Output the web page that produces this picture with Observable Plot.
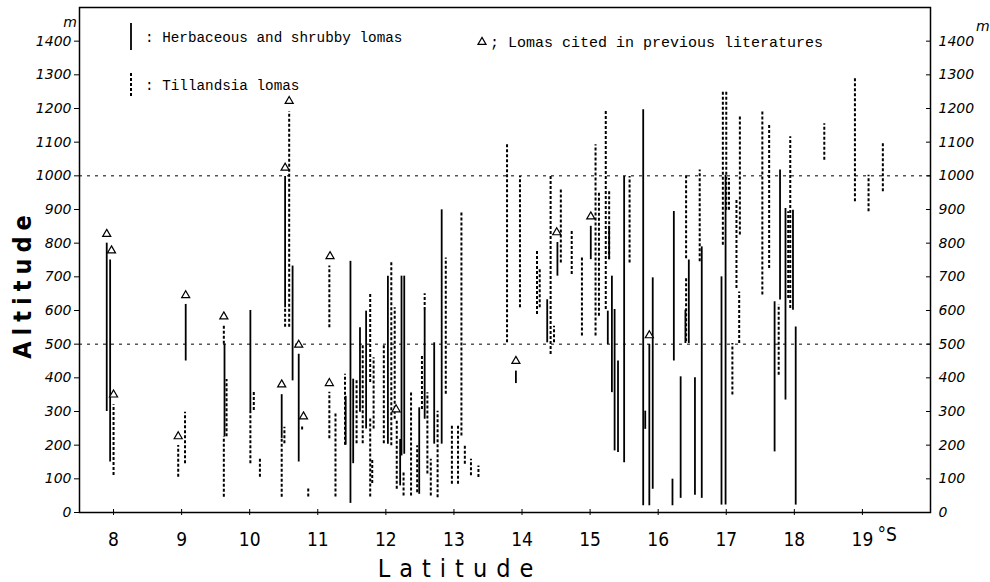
<!DOCTYPE html>
<html><head><meta charset="utf-8">
<script src="https://cdn.jsdelivr.net/npm/d3@7"></script>
<script src="https://cdn.jsdelivr.net/npm/@observablehq/plot@0.6"></script>
<style>body{margin:0;background:#fff} svg{display:block}</style>
</head><body><div id="chart"></div>
<script>
// Herbaceous and shrubby lomas (solid): latitude, lower and upper altitude (m)
const herbLat  = [7.90,7.95,9.06,9.63,10.01,10.47,10.52,10.63,10.72,11.41,11.48,11.52,11.62,11.71,12.03,12.21,12.23,12.27,12.49,12.57,12.71,12.82,13.91,14.37,14.52,15.01,15.28,15.26,15.32,15.36,15.41,15.50,15.78,15.81,15.87,15.92,16.23,16.21,16.33,16.40,16.45,16.54,16.64,16.93,16.99,17.71,17.79,17.87,17.98,18.02];
const herbLow  = [300,150,450,225,300,220,608,391,150,200,27,145,298,248,203,79,168,173,54,277,203,203,383,504,702,751,751,499,356,183,178,148,20,247,20,69,450,20,42,502,502,51,42,22,22,180,631,334,601,22];
const herbHigh = [800,750,618,500,600,350,998,732,470,345,746,396,549,598,702,217,702,702,311,600,504,899,420,632,802,850,850,598,702,603,450,998,1196,301,499,697,894,99,403,601,750,400,789,700,1002,626,1017,903,898,551];

// Tillandsia lomas (dashed)
const tillLat  = [8.00,8.95,9.05,9.62,9.62,9.66,10.01,10.06,10.15,10.47,10.51,10.58,10.52,10.77,10.86,11.17,11.17,11.26,11.40,11.57,11.66,11.77,11.77,11.82,11.80,11.97,12.08,12.13,12.16,12.26,12.37,12.46,12.53,12.57,12.61,12.66,12.76,12.88,12.97,13.06,13.11,13.16,13.25,13.36,13.78,13.97,14.22,14.26,14.42,14.47,14.57,14.73,14.88,15.08,15.13,15.23,15.28,15.58,16.41,16.41,16.61,16.95,17.00,17.04,17.09,17.15,17.20,17.19,17.53,17.63,17.77,17.91,17.94,18.44,18.89,19.09,19.30];
const tillLow  = [110,105,145,45,500,225,145,303,105,45,204,550,550,245,46,549,219,46,200,204,204,386,46,248,86,204,198,277,69,49,49,59,306,600,114,49,44,351,84,84,227,143,109,104,504,608,588,608,469,504,741,707,524,524,583,603,751,741,754,507,745,794,898,898,349,665,824,502,646,725,408,636,606,1046,923,893,953];
const tillHigh = [320,199,298,225,555,395,300,360,160,220,253,1190,608,260,76,732,357,298,411,391,500,648,278,460,160,500,746,608,277,119,356,198,469,650,356,158,301,756,257,257,894,198,158,138,1097,998,776,721,998,553,958,835,756,1092,954,1196,954,998,1002,695,1017,1250,1250,992,502,933,1175,655,1195,1155,616,893,1116,1155,1293,1002,1101];

// Lomas cited in previous literatures (triangles)
const citedLat = [7.90,7.97,8.00,8.95,9.06,9.62,10.47,10.52,10.58,10.72,10.79,11.18,11.17,12.15,13.91,14.51,15.01,15.87];
const citedAlt = [827,778,350,226,645,582,380,1024,1222,498,285,761,384,306,450,832,879,526];

const latTicks = [8,9,10,11,12,13,14,15,16,17,18,19];
const altTicks = [0,100,200,300,400,500,600,700,800,900,1000,1100,1200,1300,1400];
const refLines = [500,1000];

const herb = herbLat.map((x,i)=>({x, y1: herbLow[i], y2: herbHigh[i]}));
const till = tillLat.map((x,i)=>({x, y1: tillLow[i], y2: tillHigh[i]}));
const cited = citedLat.map((x,i)=>({x, y: citedAlt[i]}));

const numFont = "DejaVu Sans, sans-serif";
const condFont = "'Liberation Sans Narrow','DejaVu Sans Condensed','Roboto Condensed',sans-serif";
const fmt = d => String(d);

const chart = Plot.plot({
  width: 990, height: 582,
  marginLeft: 79, marginRight: 60, marginTop: 7, marginBottom: 70,
  style: {background: "#fff", color: "#000"},
  x: {domain: [7.5, 20]},
  y: {domain: [0, 1500]},
  marks: [
    Plot.ruleY(refLines, {stroke: "#000", strokeWidth: 1, strokeDasharray: "3,5"}),
    Plot.ruleX(herb, {x: "x", y1: "y1", y2: "y2", stroke: "#000", strokeWidth: 1.8}),
    Plot.ruleX(till, {x: "x", y1: "y1", y2: "y2", stroke: "#000", strokeWidth: 2, strokeDasharray: "3,2"}),
    Plot.dot(cited, {x: "x", y: "y", symbol: "triangle", r: 3, stroke: "#000", fill: "#fff", strokeWidth: 1.2}),
    Plot.frame({stroke: "#000", strokeWidth: 1.5}),
    Plot.axisY(altTicks, {anchor: "left", tickSize: 5, tickPadding: 3, fontSize: 14, fontStyle: "italic", fontFamily: numFont, tickFormat: fmt, label: null}),
    Plot.axisY(altTicks, {anchor: "right", tickSize: 5, dx: -5, text: null, label: null}),
    Plot.axisY(altTicks, {anchor: "right", tickSize: 0, tickPadding: 8, fontSize: 14, fontStyle: "italic", fontFamily: numFont, tickFormat: fmt, label: null}),
    Plot.axisX(latTicks, {anchor: "bottom", tickSize: 3, tickPadding: 17, fontSize: 19, fontFamily: condFont, tickFormat: fmt, label: null}),
    Plot.axisX(latTicks, {anchor: "bottom", tickSize: 3, dy: -3, text: null, label: null}),
    Plot.text([19], {x: d => d, frameAnchor: "bottom", text: () => "°S", textAnchor: "start", dx: 15, dy: 28, fontSize: 19, fontFamily: condFont})
  ]
});

const svg = d3.select(chart);
// axis titles
svg.append("text").attr("x", 460).attr("y", 577).attr("text-anchor", "middle")
  .attr("font-family", condFont).attr("font-size", 25).attr("letter-spacing", 9)
  .text("Latitude");
svg.append("text").attr("transform", "translate(31,284) rotate(-90)").attr("text-anchor", "middle")
  .attr("font-family", condFont).attr("font-size", 25).attr("font-weight", "bold").attr("letter-spacing", 6)
  .text("Altitude");
// unit labels
svg.append("text").attr("x", 77).attr("y", 27).attr("text-anchor", "end")
  .attr("font-family", numFont).attr("font-style", "italic").attr("font-size", 14).text("m");
svg.append("text").attr("x", 976).attr("y", 31).attr("text-anchor", "start")
  .attr("font-family", numFont).attr("font-style", "italic").attr("font-size", 14).text("m");
// legend
const mono = "'Liberation Mono', 'DejaVu Sans Mono', monospace";
svg.append("line").attr("x1", 131).attr("x2", 131).attr("y1", 23).attr("y2", 50).attr("stroke", "#000").attr("stroke-width", 1.8);
svg.append("text").attr("x", 145).attr("y", 42).attr("text-anchor", "start").attr("font-family", mono).attr("font-size", 14.3).text(": Herbaceous and shrubby lomas");
svg.append("line").attr("x1", 131).attr("x2", 131).attr("y1", 73).attr("y2", 97).attr("stroke", "#000").attr("stroke-width", 2).attr("stroke-dasharray", "3,2");
svg.append("text").attr("x", 145).attr("y", 90).attr("text-anchor", "start").attr("font-family", mono).attr("font-size", 14.3).text(": Tillandsia lomas");
svg.append("path").attr("d", d3.symbol(d3.symbolTriangle, 3*3*Math.PI)()).attr("transform", "translate(482,42)")
  .attr("fill", "#fff").attr("stroke", "#000").attr("stroke-width", 1.2);
svg.append("text").attr("x", 490).attr("y", 47).attr("text-anchor", "start").attr("font-family", mono).attr("font-size", 15).text("; Lomas cited in previous literatures");

document.getElementById("chart").appendChild(chart);
</script>
</body></html>
